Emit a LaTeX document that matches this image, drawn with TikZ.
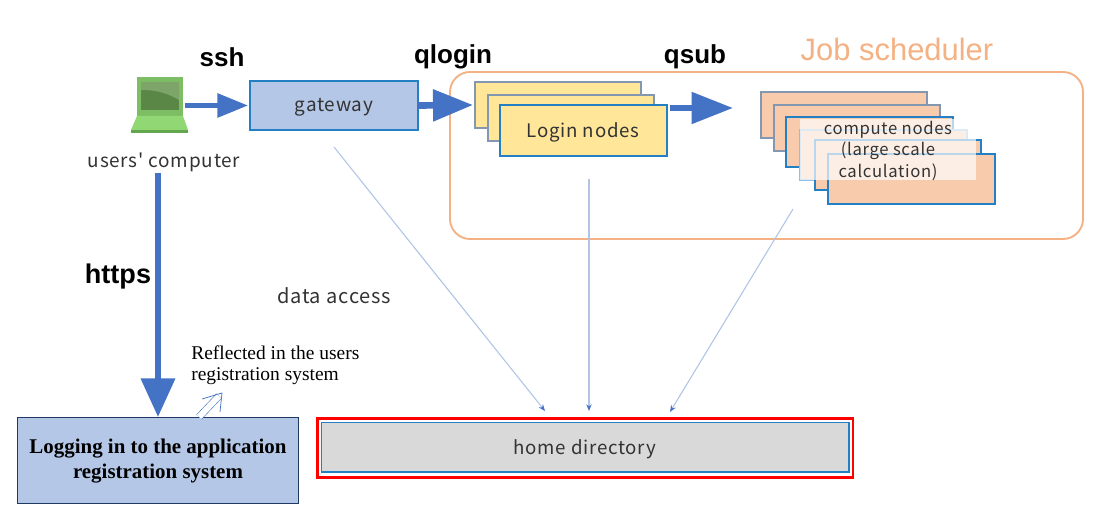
\documentclass[tikz,border=0pt]{standalone}
\usepackage{fontspec}
\usetikzlibrary{arrows.meta}
\setmainfont{Liberation Serif}
\newfontfamily\gothic[LetterSpace=4]{Noto Sans CJK JP}
\newfontfamily\arialb{Liberation Sans}
\definecolor{bluearrow}{HTML}{4472C4}
\definecolor{boxblue}{HTML}{B4C7E7}
\definecolor{edgeblue}{HTML}{2480C4}
\definecolor{greyblue}{HTML}{8497B0}
\definecolor{peach}{HTML}{F8CBAD}
\definecolor{sand}{HTML}{FFE699}
\definecolor{schedline}{HTML}{F4B183}
\definecolor{thinblue}{HTML}{B0C4E6}
\definecolor{navy}{HTML}{1F3864}
\definecolor{lapbody}{RGB}{125,190,100}
\definecolor{lapdark}{RGB}{90,135,70}
\definecolor{lapmid}{RGB}{125,165,105}
\definecolor{lapbase}{RGB}{145,215,115}
\definecolor{lapedge}{RGB}{100,165,80}
\newcommand\pxbox[6]{\node[#5,minimum width={(#4-#2)*0.75pt},minimum height={(#3-#1)*0.75pt}] (#6) at ({(#2+#4)/2},{(#1+#3)/2}) {};}
\newcommand\gothicat[2]{\gothic\fontsize{#1}{#2}\selectfont}
\tikzset{
  base/.style={rectangle,inner sep=0pt,outer sep=0pt},
  backsheet/.style={base,line width=1pt,draw=greyblue},
  frontsheet/.style={base,line width=1pt,draw=edgeblue},
  gothictext/.style={font=\gothicat{14}{16},text=black!80,inner sep=0pt,align=center},
  boldlabel/.style={font=\arialb\bfseries\fontsize{19.5}{22}\selectfont,inner sep=0pt},
  thinarrow/.style={draw=thinblue,line width=0.8pt,-{Stealth[length=5pt,width=4pt,color=bluearrow]}},
}
\begin{document}
\begin{tikzpicture}[x=0.75pt,y=-0.75pt]
\path[use as bounding box,fill=white] (0,0) rectangle (1113,523);

% job scheduler frame
\draw[schedline,line width=1.4pt,rounded corners=15pt] (450,72) rectangle (1083,239);
\node[font=\arialb\fontsize{23.2}{26}\selectfont,text=schedline,inner sep=0pt] (jobtitle) at (897,49) {Job scheduler};

% laptop
\node[base,minimum width=42.75pt,minimum height=42pt] (laptop) at (160,105) {};
\fill[lapbody] (137,77) rectangle (183,117);
\fill[lapdark] (141,82) rectangle (179,110);
\fill[lapmid] (141,82) -- (179,82) -- (179,100) .. controls (165,92) and (155,90) .. (141,90) -- cycle;
\fill[lapbase] (137,116) -- (183,116) -- (188,130) -- (131,130) -- cycle;
\fill[lapedge] (131,130) -- (188,130) -- (188,133) -- (131,133) -- cycle;
\node[gothictext,font=\gothicat{14.2}{16}] (userlabel) at (164,162) {users' computer};

% gateway
\pxbox{81}{250}{130}{418}{frontsheet,fill=boxblue}{gateway}
\node[gothictext,font=\gothicat{14.2}{16}] (gatewaylabel) at (334,107) {gateway};

% login nodes
\pxbox{82}{475}{128}{641}{backsheet,fill=sand}{loginA}
\pxbox{95}{488}{141}{654}{backsheet,fill=sand}{loginB}
\pxbox{105}{500}{156}{667}{frontsheet,fill=sand}{loginC}
\node[gothictext] (loginlabel) at (583,132) {Login nodes};

% compute nodes
\pxbox{92}{761}{138}{927}{backsheet,fill=peach}{compA}
\pxbox{105}{774}{151}{940}{backsheet,fill=peach}{compB}
\pxbox{117}{786}{167}{953}{frontsheet,fill=peach}{compC}
\pxbox{130}{800}{180}{967}{base,line width=1pt,draw=edgeblue!50,fill=peach}{compD}
\pxbox{140}{815}{190}{981}{frontsheet,fill=peach}{compE}
\pxbox{154}{828}{204}{995}{frontsheet,fill=peach}{compF}
\fill[white,opacity=0.68] (800,119) rectangle (976,180);
\node[gothictext,font=\gothicat{12.5}{16}] (comp1) at (888,130) {compute nodes};
\node[gothictext,font=\gothicat{12.5}{16}] (comp2) at (888,151) {(large scale};
\node[gothictext,font=\gothicat{12.5}{16}] (comp3) at (888,172) {calculation)};

% home directory
\pxbox{418.5}{317.5}{477.5}{853}{base,line width=2pt,draw=red}{homeouter}
\pxbox{422.5}{321.5}{472}{849}{base,line width=1pt,draw=edgeblue,fill=black!15}{home}
\node[gothictext] (homelabel) at (585,449) {home directory};

% application system
\pxbox{417}{17}{503}{298}{base,line width=0.7pt,draw=navy,fill=boxblue}{appsys}
\node[font=\bfseries\fontsize{15.7}{18.75}\selectfont,align=center,inner sep=0pt] (applabel) at (158,461) {Logging in to the application\\registration system};

% labels
\node[boldlabel] (ssh) at (222,57) {ssh};
\node[boldlabel] (qlogin) at (453,57) {qlogin};
\node[boldlabel] (qsub) at (695,57) {qsub};
\node[boldlabel,font=\arialb\bfseries\fontsize{20.3}{22}\selectfont] (https) at (118,277) {https};
\node[gothictext,font=\gothicat{15}{16}] (dataaccess) at (334,296) {data access};
\node[font=\fontsize{14.6}{15.75}\selectfont,align=left,inner sep=0pt,anchor=west] (reflected) at (191,365.5) {Reflected in the users\\registration system};

% fat arrows
\draw[draw=bluearrow,line width=3.8pt,-{Triangle[length=23pt,width=17.5pt]}] ([xshift=-3pt]laptop.east |- gateway.west) -- ([xshift=-1.5pt]gateway.west);
\draw[draw=bluearrow,line width=5pt,-{Triangle[length=30pt,width=23pt]}] (gateway.east) -- ([xshift=-1.5pt]loginA.west);
\coordinate (qsubstart) at (670,108);
\coordinate (qsubend) at (733,108);
\draw[draw=bluearrow,line width=4.5pt,-{Triangle[length=31pt,width=23pt]}] (qsubstart) -- (qsubend);
\coordinate (httpsstart) at (158,173);
\draw[draw=bluearrow,line width=4.5pt,-{Triangle[length=29pt,width=25pt]}] (httpsstart) -- (appsys.north -| httpsstart);

% thin arrows
\coordinate (gwfoot) at (334,147);
\coordinate (loginfoot) at (589,179);
\coordinate (compfoot) at (793,209);
\coordinate (homeA) at (545,411);
\coordinate (homeB) at (589,411);
\coordinate (homeC) at (670,412);
\draw[thinarrow] (gwfoot) -- (homeA);
\draw[thinarrow] (loginfoot) -- (homeB);
\draw[thinarrow] (compfoot) -- (homeC);

% reflected double arrow
\coordinate (dblstart) at (199,417);
\coordinate (dblend) at (219,396);
\coordinate (dbltip) at (222,393);
\coordinate (dblleft) at (202,399);
\coordinate (dblright) at (220,412);
\draw[bluearrow,line width=0.45pt,double=white,double distance=4.5pt] (dblstart) -- (dblend);
\draw[bluearrow,line width=0.55pt] (dblleft) -- (dbltip) -- (dblright);
\end{tikzpicture}
\end{document}
